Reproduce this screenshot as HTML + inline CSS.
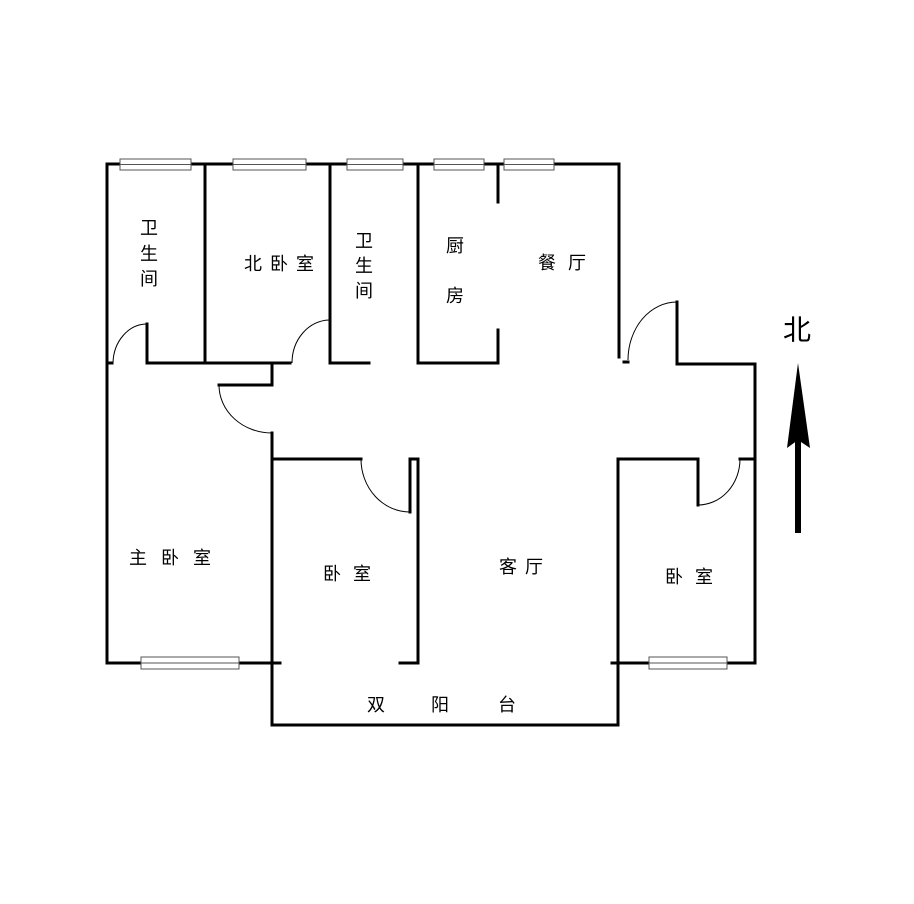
<!DOCTYPE html>
<html><head><meta charset="utf-8"><style>
html,body{margin:0;padding:0;background:#fff}
svg{display:block}
text{font-family:"Liberation Sans","Noto Sans CJK SC",sans-serif;font-size:18px;fill:#000;text-anchor:middle;dominant-baseline:central}
</style></head><body>
<svg width="914" height="904" viewBox="0 0 914 904" xmlns="http://www.w3.org/2000/svg">
<g stroke="#000" stroke-width="3" fill="none" stroke-linecap="square">
<!-- top wall -->
<path d="M107 164 H619 V357"/>
<path d="M107 164 V663 H280"/>
<path d="M205 164 V363"/>
<path d="M330 164 V363 H369"/>
<path d="M418 164 V363 H498 V330"/>
<path d="M498 164 V202"/>
<path d="M107 363 H112"/>
<path d="M147 324 V363 H290"/>
<path d="M272 363 V385 H219"/>
<path d="M272 433 V725 H618 V459 H698 V505"/>
<path d="M740 459 H755"/>
<path d="M677 302 V364 H755 V663 H612"/>
<path d="M624 362 H628"/>
<path d="M272 459 H361"/>
<path d="M410 459 V512 M418 459 V663 H400 M410 459 H418"/>
</g>
<g stroke="#000" stroke-width="1" fill="none">
<path d="M113 363 A34 40 0 0 1 147 324"/>
<path d="M292 363 A38 43 0 0 1 329 320"/>
<path d="M219 385 A53 48 0 0 0 272 433"/>
<path d="M361 459 A49 53 0 0 0 410 512"/>
<path d="M628 360 A49 58 0 0 1 677 302"/>
<path d="M698 505 A42 46 0 0 0 740 459"/>
</g>
<g stroke="#555" stroke-width="1" fill="#fff">
<rect x="120" y="159" width="71" height="11"/><line x1="120" y1="164.5" x2="191" y2="164.5"/>
<rect x="233" y="159" width="73" height="11"/><line x1="233" y1="164.5" x2="306" y2="164.5"/>
<rect x="347" y="159" width="56" height="11"/><line x1="347" y1="164.5" x2="403" y2="164.5"/>
<rect x="434" y="159" width="50" height="11"/><line x1="434" y1="164.5" x2="484" y2="164.5"/>
<rect x="504" y="159" width="50" height="11"/><line x1="504" y1="164.5" x2="554" y2="164.5"/>
<rect x="141" y="657" width="98" height="12"/><line x1="141" y1="663" x2="239" y2="663"/>
<rect x="649" y="657" width="78" height="12"/><line x1="649" y1="663" x2="727" y2="663"/>
</g>
<!-- north arrow -->
<rect x="795" y="440" width="6" height="93" fill="#000"/>
<path d="M798 363 L810 448 L798 440 L787 448 Z" fill="#000"/>
<text x="797" y="330" style="font-size:28px">北</text>
<text x="149" y="228">卫</text><text x="149" y="254">生</text><text x="149" y="279">间</text>
<text x="283" y="264" style="letter-spacing:8px">北卧室</text>
<text x="364" y="241">卫</text><text x="364" y="266">生</text><text x="364" y="291">间</text>
<text x="455" y="246">厨</text><text x="455" y="296">房</text>
<text x="568" y="263" style="letter-spacing:12px">餐厅</text>
<text x="177" y="558" style="letter-spacing:14px">主卧室</text>
<text x="353" y="574" style="letter-spacing:12px">卧室</text>
<text x="525" y="567" style="letter-spacing:8px">客厅</text>
<text x="695" y="577" style="letter-spacing:12px">卧室</text>
<text x="376" y="705">双</text><text x="440" y="705">阳</text><text x="507" y="705">台</text>
</svg>
</body></html>
